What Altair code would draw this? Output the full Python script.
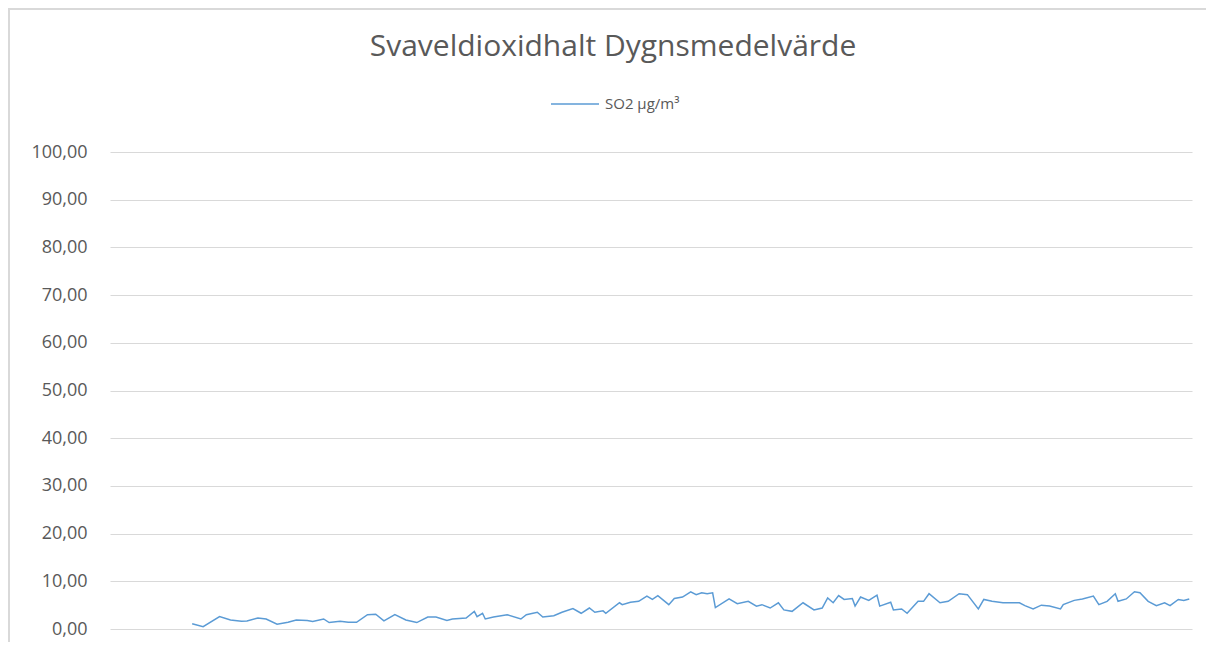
import altair as alt
import pandas as pd

# Day index (0..364) and daily mean SO2 values
days = [0, 4, 10, 14, 18, 20, 24, 27, 31, 35, 38, 42, 44, 48, 50, 54, 57, 60, 64, 67,
        70, 74, 78, 82, 86, 89, 93, 95, 100, 103, 104, 106, 107, 110, 115, 120, 122,
        126, 128, 132, 135, 139, 142, 145, 147, 150, 151, 156, 157, 160, 163, 166, 168,
        170, 174, 176, 179, 182, 184, 186, 188, 190, 191, 196, 199, 203, 206, 208, 211,
        214, 216, 219, 223, 227, 230, 232, 234, 236, 238, 241, 242, 244, 247,
        250, 251, 255, 256, 259, 261, 265, 267, 269, 273, 276, 280, 283, 287, 289, 292,
        296, 302, 304, 307, 310, 313, 317, 318, 322, 325, 329, 331, 334, 337, 338, 341,
        344, 346, 349, 352, 355, 357, 360, 362, 364]
so2 = [1.1, 0.5, 2.6, 1.9, 1.6, 1.7, 2.3, 2.1, 1.0, 1.4, 1.9, 1.8, 1.6, 2.1, 1.35, 1.6,
       1.4, 1.4, 3.0, 3.1, 1.7, 3.0, 1.9, 1.35, 2.5, 2.5, 1.8, 2.1, 2.3, 3.7, 2.6, 3.3,
       2.1, 2.5, 3.0, 2.1, 3.0,
       3.5, 2.5, 2.8, 3.5, 4.3, 3.3, 4.4, 3.5, 3.8, 3.3, 5.5, 5.1, 5.6, 5.8, 6.9, 6.2,
       7.0, 5.1, 6.4, 6.7, 7.8, 7.2, 7.6, 7.4, 7.6, 4.5, 6.3, 5.3, 5.8, 4.8, 5.1, 4.4,
       5.5, 4.0, 3.7, 5.5, 4.0, 4.4, 6.5, 5.5, 7.0, 6.2, 6.4, 4.8, 6.7, 6.0,
       7.1, 4.8, 5.6, 4.0, 4.2, 3.3, 5.8, 5.8, 7.4, 5.5, 5.8, 7.4, 7.2, 4.2, 6.2, 5.8,
       5.5, 5.5, 4.9, 4.2, 5.0, 4.8, 4.2, 5.1, 6.0, 6.3, 6.9, 5.1, 5.8, 7.4, 5.8, 6.3,
       7.8, 7.6, 5.8, 4.9, 5.5, 4.9, 6.2, 6.0, 6.3]
assert len(days) == len(so2)

series_name = "SO2 µg/m³"
title_text = "Svaveldioxidhalt Dygnsmedelvärde"
y_ticks = [0, 10, 20, 30, 40, 50, 60, 70, 80, 90, 100]

df = pd.DataFrame({"day": days, "value": so2, "series": series_name})

W, H = 1082, 477
GRID = "#d9d9d9"
TEXT = "#595959"
FONT = "Open Sans"

line = alt.Chart(df).mark_line(strokeWidth=1.5).encode(
    x=alt.X("day:Q", scale=alt.Scale(domain=[-30, 365], nice=False, zero=False), axis=None),
    y=alt.Y("value:Q", scale=alt.Scale(domain=[0, 100], nice=False),
            axis=alt.Axis(values=y_ticks, title=None, domain=False, ticks=False, tickSize=0,
                          labelPadding=23, labelFont=FONT, labelFontSize=18, labelColor=TEXT,
                          gridColor=GRID, gridWidth=1,
                          labelExpr="replace(format(datum.value, '.2f'), '.', ',')")),
    color=alt.Color("series:N", scale=alt.Scale(range=["#5B9BD5"]),
                    legend=alt.Legend(orient="none", legendX=440, legendY=-73, title=None,
                                      symbolType="stroke", symbolSize=2304,
                                      symbolStrokeWidth=1.5, labelFont=FONT,
                                      labelFontSize=15, labelColor=TEXT, labelOffset=5,
                                      padding=0)),
)

one = pd.DataFrame({"t": [title_text]})
title = alt.Chart(one).mark_text(font=FONT, fontSize=30, color=TEXT, align="center",
                                 baseline="alphabetic").encode(
    text="t:N", x=alt.value(503), y=alt.value(-96))

frame_left = alt.Chart(one).mark_rule(color=GRID, strokeWidth=2).encode(
    x=alt.value(-101), y=alt.value(-144), y2=alt.value(H + 20))
frame_top = alt.Chart(one).mark_rule(color=GRID, strokeWidth=2).encode(
    x=alt.value(-102), x2=alt.value(W + 40), y=alt.value(-143))

chart = alt.layer(frame_left, frame_top, line, title).properties(
    width=W, height=H,
    autosize=alt.AutoSizeParams(type="none"),
    padding={"left": 102, "top": 144, "right": 14, "bottom": 13},
    background="white",
).configure_view(stroke=None)

chart.save("out.html", embed_options={"renderer": "svg", "actions": False})
